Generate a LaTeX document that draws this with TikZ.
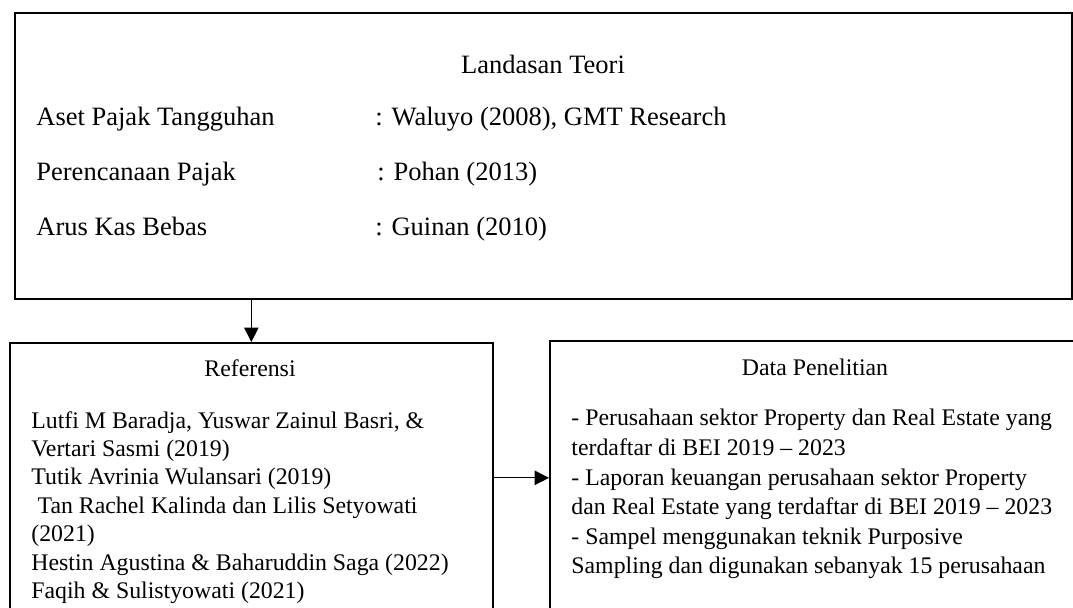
\documentclass[tikz,border=0pt]{standalone}
\usepackage{fontspec}
\setmainfont{Liberation Serif}
\usetikzlibrary{arrows.meta}
\def\unitpx{0.483pt}
\begin{document}
\begin{tikzpicture}[x=\unitpx, y=-\unitpx,
		box/.style={draw, line width=0.8pt, inner sep=0pt, anchor=north west},
		txt/.style={inner sep=0pt, font=\fontsize{11.5}{13.7}\selectfont},
		besar/.style={txt, font=\fontsize{12.8}{15}\selectfont},
		arr/.style={-{Triangle[width=7pt,length=7pt]}, line width=0.5pt}]
		\useasboundingbox (0,0) rectangle (1073,607);
		\clip (0,0) rectangle (1073,607);

		% kotak
		\node[box, minimum width={1057*\unitpx}, minimum height={286*\unitpx}] (teori) at (14,12) {};
		\node[box, minimum width={483*\unitpx}, minimum height={270*\unitpx}] (ref) at (9,342) {};
		\node[box, minimum width={530*\unitpx}, minimum height={280*\unitpx}] (data) at (549,340) {};

		% landasan teori
		\node[besar] (judulteori) at (543,64) {Landasan Teori};
		\node[besar, anchor=base west] (var1) at (36,125) {Aset Pajak Tangguhan};
		\node[besar, anchor=base west] (var2) at (36,180) {Perencanaan Pajak};
		\node[besar, anchor=base west] (var3) at (36,235) {Arus Kas Bebas};
		\node[besar, anchor=base west] (sum1) at (375,125) {: Waluyo (2008), GMT Research};
		\node[besar, anchor=base west] (sum2) at (377,180) {: Pohan (2013)};
		\node[besar, anchor=base west] (sum3) at (375,235) {: Guinan (2010)};

		% referensi
		\node[txt] (judulref) at (250,368) {Referensi};
		\node[txt, anchor=north west, align=left] (isiref) at (31,411) {%
			Lutfi M Baradja, Yuswar Zainul Basri, \&\\
			Vertari Sasmi (2019)\\
			Tutik Avrinia Wulansari (2019)\\
			\hspace{3pt}Tan Rachel Kalinda dan Lilis Setyowati\\
			(2021)\\
			Hestin Agustina \& Baharuddin Saga (2022)\\
			Faqih \& Sulistyowati (2021)};

		% data penelitian
		\node[txt] (juduldata) at (815,367) {Data Penelitian};
		\node[txt, anchor=north west, align=left, font=\fontsize{11.5}{14.3}\selectfont] (isidata) at (571,409) {%
			- Perusahaan sektor Property dan Real Estate yang\\
			terdaftar di BEI 2019 -- 2023\\
			- Laporan keuangan perusahaan sektor Property\\
			dan Real Estate yang terdaftar di BEI 2019 -- 2023\\
			- Sampel menggunakan teknik Purposive\\
			Sampling dan digunakan sebanyak 15 perusahaan};

		\draw[arr] (teori.south -| ref.north) -- (ref.north);
		\draw[arr] (ref.east) -- (data.west |- ref.east);
\end{tikzpicture}
\end{document}
